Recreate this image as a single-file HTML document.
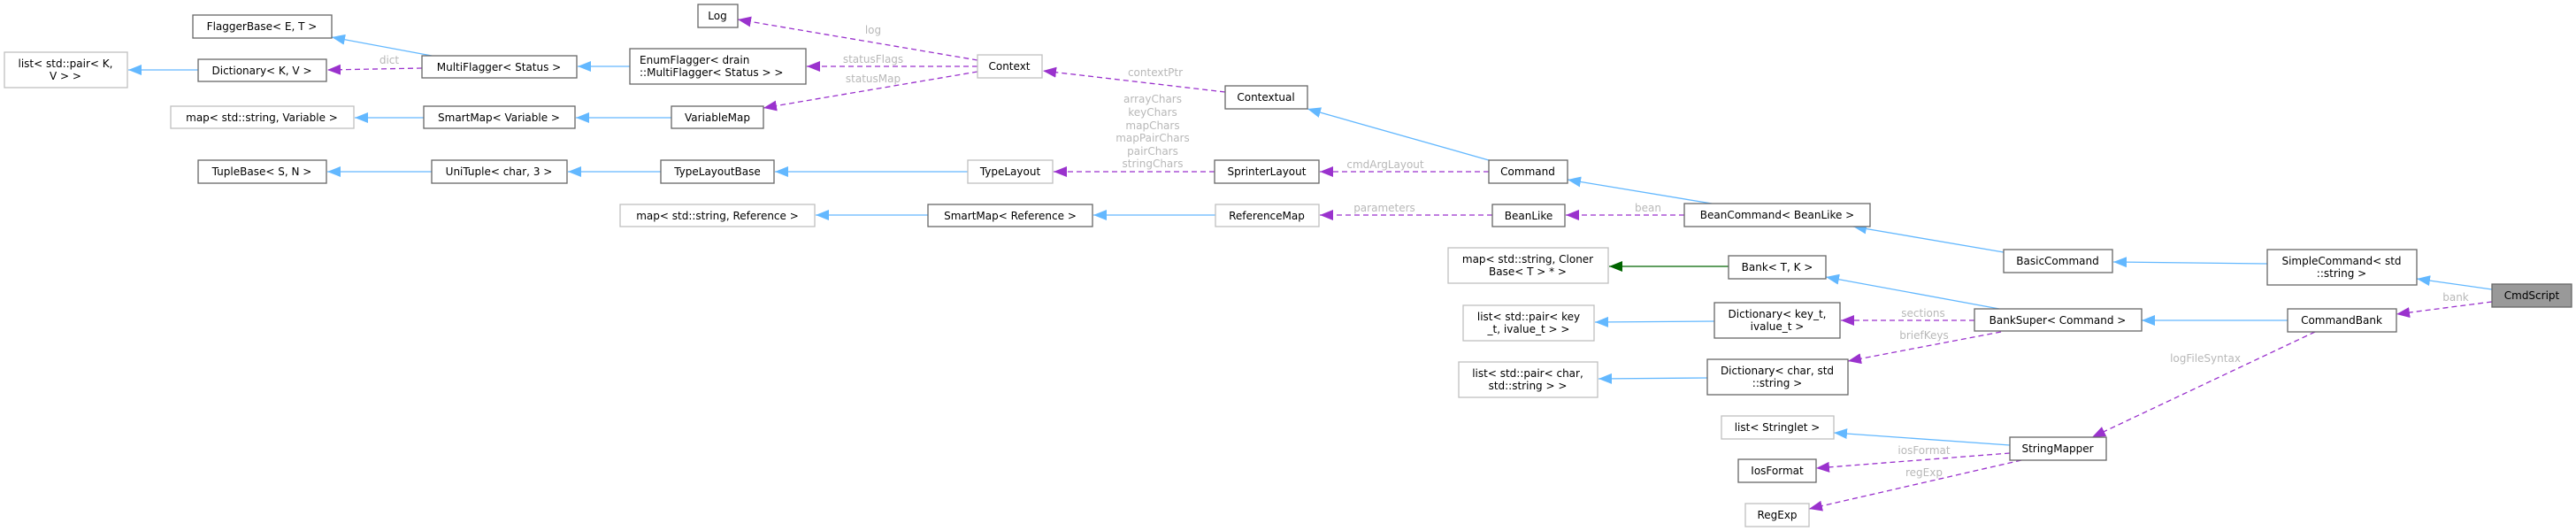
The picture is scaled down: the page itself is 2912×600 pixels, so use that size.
<!DOCTYPE html>
<html><head><meta charset="utf-8"><style>
html,body{margin:0;padding:0;background:#fff;}
svg{display:block;}
text{font-family:"DejaVu Sans","Liberation Sans",sans-serif;font-size:12px;}
.t{fill:#000;text-anchor:middle;}
.l{fill:#b8b8b8;text-anchor:middle;}
.bd{fill:#fff;stroke:#666;stroke-width:1.3;}
.bl{fill:#fff;stroke:#bfbfbf;stroke-width:1.3;}
.eb{stroke:#63b8ff;stroke-width:1.3;fill:none;}
.ep{stroke:#9a32cd;stroke-width:1.3;fill:none;stroke-dasharray:6,4;}
.eg{stroke:#006400;stroke-width:1.3;fill:none;}
</style></head><body>
<svg width="2912" height="600" viewBox="0 0 2912 600" xmlns="http://www.w3.org/2000/svg">
<defs>
<marker id="ab" markerWidth="16" markerHeight="12" refX="15" refY="6" orient="auto" markerUnits="userSpaceOnUse"><path d="M0,0 L15,6 L0,12 z" fill="#63b8ff"/></marker>
<marker id="ap" markerWidth="16" markerHeight="12" refX="15" refY="6" orient="auto" markerUnits="userSpaceOnUse"><path d="M0,0 L15,6 L0,12 z" fill="#9a32cd"/></marker>
<marker id="ag" markerWidth="16" markerHeight="12" refX="15" refY="6" orient="auto" markerUnits="userSpaceOnUse"><path d="M0,0 L15,6 L0,12 z" fill="#006400"/></marker>
</defs>

<!-- edges -->
<line class="eb" x1="224" y1="79" x2="145" y2="79" marker-end="url(#ab)"/>
<line class="eb" x1="488" y1="63" x2="375" y2="42" marker-end="url(#ab)"/>
<line class="ep" x1="477" y1="77" x2="370" y2="79" marker-end="url(#ap)"/>
<text class="l" x="440" y="72">dict</text>
<line class="eb" x1="712" y1="75" x2="653" y2="75" marker-end="url(#ab)"/>
<line class="ep" x1="1105" y1="75" x2="912" y2="75" marker-end="url(#ap)"/>
<text class="l" x="987" y="71">statusFlags</text>
<line class="ep" x1="1105" y1="68" x2="834" y2="22" marker-end="url(#ap)"/>
<text class="l" x="987" y="38">log</text>
<line class="ep" x1="1105" y1="81" x2="863" y2="122" marker-end="url(#ap)"/>
<text class="l" x="987" y="93">statusMap</text>
<line class="eb" x1="479" y1="133" x2="401" y2="133" marker-end="url(#ab)"/>
<line class="eb" x1="759" y1="133" x2="651" y2="133" marker-end="url(#ab)"/>
<line class="eb" x1="488" y1="194" x2="370" y2="194" marker-end="url(#ab)"/>
<line class="eb" x1="747" y1="194" x2="642" y2="194" marker-end="url(#ab)"/>
<line class="eb" x1="1094" y1="194" x2="876" y2="194" marker-end="url(#ab)"/>
<line class="ep" x1="1373" y1="194" x2="1191" y2="194" marker-end="url(#ap)"/>
<text class="l" x="1303" y="116">arrayChars</text>
<text class="l" x="1303" y="131">keyChars</text>
<text class="l" x="1303" y="146">mapChars</text>
<text class="l" x="1303" y="160">mapPairChars</text>
<text class="l" x="1303" y="175">pairChars</text>
<text class="l" x="1303" y="189">stringChars</text>
<line class="ep" x1="1683" y1="194" x2="1492" y2="194" marker-end="url(#ap)"/>
<text class="l" x="1566" y="190">cmdArgLayout</text>
<line class="eb" x1="1683" y1="181" x2="1478" y2="123" marker-end="url(#ab)"/>
<line class="ep" x1="1385" y1="104" x2="1179" y2="80" marker-end="url(#ap)"/>
<text class="l" x="1306" y="86">contextPtr</text>
<line class="eb" x1="1935" y1="230" x2="1772" y2="203" marker-end="url(#ab)"/>
<line class="eb" x1="1049" y1="243" x2="922" y2="243" marker-end="url(#ab)"/>
<line class="eb" x1="1374" y1="243" x2="1236" y2="243" marker-end="url(#ab)"/>
<line class="ep" x1="1687" y1="243" x2="1492" y2="243" marker-end="url(#ap)"/>
<text class="l" x="1565" y="239">parameters</text>
<line class="ep" x1="1904" y1="243" x2="1770" y2="243" marker-end="url(#ap)"/>
<text class="l" x="1863" y="239">bean</text>
<line class="eb" x1="2265" y1="285" x2="2095" y2="256" marker-end="url(#ab)"/>
<line class="eb" x1="2563" y1="298" x2="2389" y2="296" marker-end="url(#ab)"/>
<line class="eb" x1="2817" y1="327" x2="2732" y2="315" marker-end="url(#ab)"/>
<line class="ep" x1="2817" y1="341" x2="2709" y2="355" marker-end="url(#ap)"/>
<text class="l" x="2776" y="340">bank</text>
<line class="eg" x1="1954" y1="301" x2="1819" y2="301" marker-end="url(#ag)"/>
<line class="eb" x1="2260" y1="349" x2="2064" y2="313" marker-end="url(#ab)"/>
<line class="ep" x1="2232" y1="362" x2="2081" y2="362" marker-end="url(#ap)"/>
<text class="l" x="2174" y="358">sections</text>
<line class="ep" x1="2262" y1="375" x2="2089" y2="408" marker-end="url(#ap)"/>
<text class="l" x="2175" y="383">briefKeys</text>
<line class="eb" x1="1938" y1="363" x2="1803" y2="364" marker-end="url(#ab)"/>
<line class="eb" x1="1930" y1="427" x2="1807" y2="428" marker-end="url(#ab)"/>
<line class="eb" x1="2586" y1="362" x2="2421" y2="362" marker-end="url(#ab)"/>
<line class="ep" x1="2617" y1="375" x2="2365" y2="494" marker-end="url(#ap)"/>
<text class="l" x="2493" y="409">logFileSyntax</text>
<line class="eb" x1="2272" y1="503" x2="2073" y2="489" marker-end="url(#ab)"/>
<line class="ep" x1="2272" y1="512" x2="2053" y2="529" marker-end="url(#ap)"/>
<text class="l" x="2175" y="513">iosFormat</text>
<line class="ep" x1="2285" y1="520" x2="2045" y2="575" marker-end="url(#ap)"/>
<text class="l" x="2175" y="538">regExp</text>

<!-- nodes -->
<rect class="bd" x="218" y="17" width="157" height="26"/><text class="t" x="296" y="34">FlaggerBase&lt; E, T &gt;</text>
<rect class="bl" x="5" y="59" width="139" height="40"/><text class="t" x="74" y="76">list&lt; std::pair&lt; K,</text><text class="t" x="74" y="90">V &gt; &gt;</text>
<rect class="bd" x="224" y="67" width="145" height="25"/><text class="t" x="296" y="84">Dictionary&lt; K, V &gt;</text>
<rect class="bd" x="477" y="63" width="175" height="25"/><text class="t" x="564" y="80">MultiFlagger&lt; Status &gt;</text>
<rect class="bd" x="712" y="55" width="199" height="40"/><text x="723" y="72">EnumFlagger&lt; drain</text><text x="723" y="86">::MultiFlagger&lt; Status &gt; &gt;</text>
<rect class="bd" x="789" y="5" width="45" height="26"/><text class="t" x="811" y="22">Log</text>
<rect class="bl" x="1105" y="62" width="73" height="26"/><text class="t" x="1141" y="79">Context</text>
<rect class="bl" x="193" y="120" width="207" height="25"/><text class="t" x="296" y="137">map&lt; std::string, Variable &gt;</text>
<rect class="bd" x="479" y="120" width="171" height="25"/><text class="t" x="564" y="137">SmartMap&lt; Variable &gt;</text>
<rect class="bd" x="759" y="120" width="104" height="25"/><text class="t" x="811" y="137">VariableMap</text>
<rect class="bd" x="1385" y="97" width="93" height="26"/><text class="t" x="1431" y="114">Contextual</text>
<rect class="bd" x="224" y="181" width="145" height="26"/><text class="t" x="296" y="198">TupleBase&lt; S, N &gt;</text>
<rect class="bd" x="488" y="181" width="153" height="26"/><text class="t" x="564" y="198">UniTuple&lt; char, 3 &gt;</text>
<rect class="bd" x="747" y="181" width="128" height="26"/><text class="t" x="811" y="198">TypeLayoutBase</text>
<rect class="bl" x="1094" y="181" width="96" height="26"/><text class="t" x="1142" y="198">TypeLayout</text>
<rect class="bd" x="1373" y="181" width="118" height="26"/><text class="t" x="1432" y="198">SprinterLayout</text>
<rect class="bd" x="1683" y="181" width="89" height="26"/><text class="t" x="1727" y="198">Command</text>
<rect class="bl" x="701" y="231" width="220" height="25"/><text class="t" x="811" y="248">map&lt; std::string, Reference &gt;</text>
<rect class="bd" x="1049" y="231" width="186" height="25"/><text class="t" x="1142" y="248">SmartMap&lt; Reference &gt;</text>
<rect class="bl" x="1374" y="231" width="117" height="25"/><text class="t" x="1432" y="248">ReferenceMap</text>
<rect class="bd" x="1687" y="231" width="82" height="25"/><text class="t" x="1728" y="248">BeanLike</text>
<rect class="bd" x="1904" y="230" width="210" height="26"/><text class="t" x="2009" y="247">BeanCommand&lt; BeanLike &gt;</text>
<rect class="bd" x="2265" y="282" width="123" height="26"/><text class="t" x="2326" y="299">BasicCommand</text>
<rect class="bd" x="2563" y="282" width="169" height="40"/><text class="t" x="2647" y="299">SimpleCommand&lt; std</text><text class="t" x="2647" y="313">::string &gt;</text>
<rect x="2817" y="321" width="90" height="26" fill="#999" stroke="#666" stroke-width="1.3"/><text class="t" x="2862" y="338">CmdScript</text>
<rect class="bl" x="1637" y="280" width="181" height="40"/><text class="t" x="1727" y="297">map&lt; std::string, Cloner</text><text class="t" x="1727" y="311">Base&lt; T &gt; * &gt;</text>
<rect class="bd" x="1954" y="289" width="110" height="26"/><text class="t" x="2009" y="306">Bank&lt; T, K &gt;</text>
<rect class="bl" x="1654" y="345" width="148" height="40"/><text class="t" x="1728" y="362">list&lt; std::pair&lt; key</text><text class="t" x="1728" y="376">_t, ivalue_t &gt; &gt;</text>
<rect class="bd" x="1938" y="342" width="142" height="40"/><text class="t" x="2009" y="359">Dictionary&lt; key_t,</text><text class="t" x="2009" y="373">ivalue_t &gt;</text>
<rect class="bd" x="2232" y="349" width="189" height="25"/><text class="t" x="2326" y="366">BankSuper&lt; Command &gt;</text>
<rect class="bd" x="2586" y="349" width="123" height="26"/><text class="t" x="2647" y="366">CommandBank</text>
<rect class="bl" x="1649" y="409" width="157" height="40"/><text class="t" x="1727" y="426">list&lt; std::pair&lt; char,</text><text class="t" x="1727" y="440">std::string &gt; &gt;</text>
<rect class="bd" x="1930" y="406" width="159" height="40"/><text class="t" x="2009" y="423">Dictionary&lt; char, std</text><text class="t" x="2009" y="437">::string &gt;</text>
<rect class="bl" x="1946" y="470" width="127" height="26"/><text class="t" x="2009" y="487">list&lt; Stringlet &gt;</text>
<rect class="bd" x="2272" y="494" width="109" height="26"/><text class="t" x="2326" y="511">StringMapper</text>
<rect class="bd" x="1965" y="519" width="88" height="26"/><text class="t" x="2009" y="536">IosFormat</text>
<rect class="bl" x="1973" y="569" width="72" height="26"/><text class="t" x="2009" y="586">RegExp</text>
</svg>
</body></html>
